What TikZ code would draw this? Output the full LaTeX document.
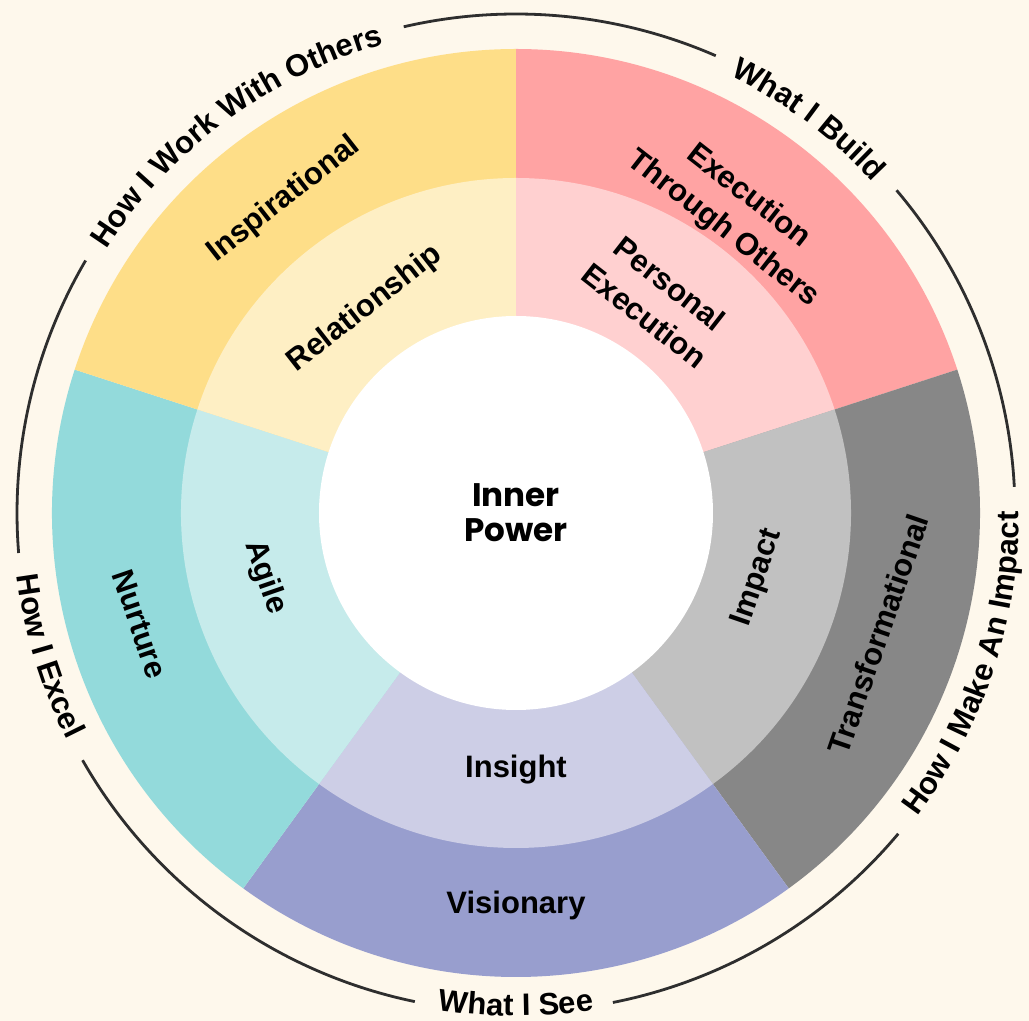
\documentclass[tikz,border=0pt]{standalone}
\usepackage{fontspec}
\setmainfont{Liberation Sans}
\newfontfamily\powerfont{Poppins}
\usetikzlibrary{decorations.text}
\definecolor{bgcream}{HTML}{FEF8EC}
\definecolor{redout}{HTML}{FFA3A3}
\definecolor{redin}{HTML}{FFD0D0}
\definecolor{grayout}{HTML}{878787}
\definecolor{grayin}{HTML}{C1C1C1}
\definecolor{purpout}{HTML}{989ECE}
\definecolor{purpin}{HTML}{CDCEE6}
\definecolor{tealout}{HTML}{93DADB}
\definecolor{tealin}{HTML}{C6EBEB}
\definecolor{yelout}{HTML}{FEDE88}
\definecolor{yelin}{HTML}{FEEFC4}
\definecolor{arcgray}{HTML}{2E2E2E}
\newcommand{\lblfont}{\fontsize{15.5}{20.5}\selectfont\bfseries}

\begin{document}
\begin{tikzpicture}[x=0.5pt,y=0.5pt,
  seg/.style={font=\lblfont,align=center,inner sep=0pt},
  ringtext/.style={decorate,decoration={text along path,text align=center}},
  ringarc/.style={draw=arcgray,line width=1.4pt}]
\fill[bgcream,use as bounding box] (-516,-508) rectangle (513,513);
\coordinate (o) at (0,0);
% outer ring
\fill[redout] (o) -- (90:464) arc[start angle=90,end angle=18,radius=464] -- cycle;
\fill[grayout] (o) -- (18:464) arc[start angle=18,end angle=-54,radius=464] -- cycle;
\fill[purpout] (o) -- (-54:464) arc[start angle=-54,end angle=-126,radius=464] -- cycle;
\fill[tealout] (o) -- (-126:464) arc[start angle=-126,end angle=-198,radius=464] -- cycle;
\fill[yelout] (o) -- (162:464) arc[start angle=162,end angle=90,radius=464] -- cycle;
% middle ring
\fill[redin] (o) -- (90:335) arc[start angle=90,end angle=18,radius=335] -- cycle;
\fill[grayin] (o) -- (18:335) arc[start angle=18,end angle=-54,radius=335] -- cycle;
\fill[purpin] (o) -- (-54:335) arc[start angle=-54,end angle=-126,radius=335] -- cycle;
\fill[tealin] (o) -- (-126:335) arc[start angle=-126,end angle=-198,radius=335] -- cycle;
\fill[yelin] (o) -- (162:335) arc[start angle=162,end angle=90,radius=335] -- cycle;
\fill[white] (o) circle[radius=197];
\node[font=\powerfont\fontsize{16.3}{17.5}\selectfont\bfseries,align=center] (power) at (o) {Inner\\Power};
% segment labels
\node[seg,rotate=38] (inspir) at (126.5:390) {Inspirational};
\node[seg,rotate=38] (relat) at (126.5:254) {Relationship};
\node[seg,rotate=-38] (execoth) at (53.8:372) {Execution\\Through Others};
\node[seg,rotate=-38] (persexec) at (56.5:256) {Personal\\Execution};
\node[seg,rotate=71] (transf) at (-18.5:382) {Transformational};
\node[seg,rotate=71] (impact) at (-15:250) {Impact};
\node[seg] (vision) at (-90:392) {Visionary};
\node[seg] (insight) at (-90:257) {Insight};
\node[seg,rotate=-71] (nurture) at (196.5:392) {Nurture};
\node[seg,rotate=-71] (agile) at (194.5:259) {Agile};
% outer captions and arcs
\path[ringtext,decoration={text={|\lblfont|How I Work With Others}}] (165:487) arc[start angle=165,end angle=88,radius=487];
\path[ringtext,decoration={text={|\lblfont|What I Build}}] (90:487) arc[start angle=90,end angle=16.8,radius=487];
\path[ringtext,decoration={text={|\lblfont|How I Make An Impact}}] (-58:503) arc[start angle=-58,end angle=21,radius=503];
\path[ringtext,decoration={text={|\lblfont|What I See}}] (-125:503) arc[start angle=-125,end angle=-55,radius=503];
\path[ringtext,decoration={text={|\lblfont|How I Excel}}] (160:503) arc[start angle=160,end angle=234,radius=503];
\draw[ringarc] (103:499) arc[start angle=103,end angle=66.4,radius=499];
\draw[ringarc] (40.3:499) arc[start angle=40.3,end angle=3,radius=499];
\draw[ringarc] (-40:499) arc[start angle=-40,end angle=-78.8,radius=499];
\draw[ringarc] (-101.7:499) arc[start angle=-101.7,end angle=-150.3,radius=499];
\draw[ringarc] (184.6:499) arc[start angle=184.6,end angle=149.6,radius=499];
\end{tikzpicture}
\end{document}
